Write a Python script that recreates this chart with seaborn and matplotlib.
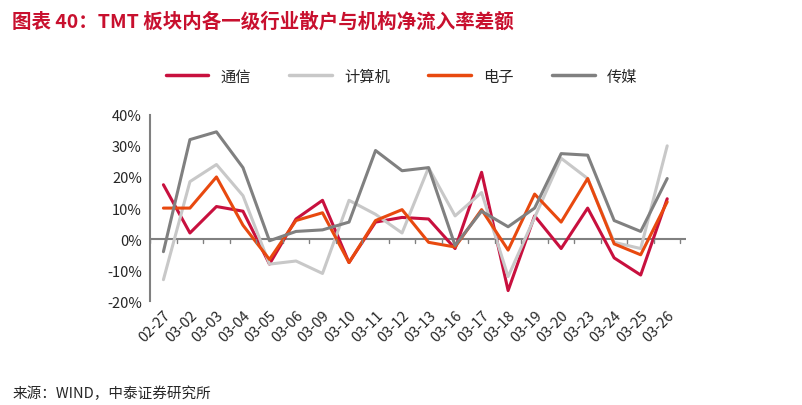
import matplotlib
matplotlib.use("Agg")
import matplotlib.pyplot as plt
import seaborn as sns
import pandas as pd

dates = ["02-27", "03-02", "03-03", "03-04", "03-05", "03-06", "03-09", "03-10", "03-11", "03-12",
         "03-13", "03-16", "03-17", "03-18", "03-19", "03-20", "03-23", "03-24", "03-25", "03-26"]
tongxin = [17.5, 2, 10.5, 9, -8, 6.5, 12.5, -7.5, 5.5, 7, 6.5, -3, 21.5, -16.5, 7.5, -3, 10, -6, -11.5, 13]
jisuanji = [-13, 18.5, 24, 14, -8, -7, -11, 12.5, 8, 2, 23, 7.5, 15, -12, 7, 26, 19.5, -1, -3, 30]
dianzi = [10, 10, 20, 4.5, -6.5, 6, 8.5, -7.5, 6, 9.5, -1, -2.5, 9.5, -3.5, 14.5, 5.5, 19.5, -1.5, -5, 12]
chuanmei = [-4, 32, 34.5, 23, -0.5, 2.5, 3, 5.5, 28.5, 22, 23, -2, 9, 4, 10, 27.5, 27, 6, 2.5, 19.5]

series = {"通信": tongxin, "计算机": jisuanji, "电子": dianzi, "传媒": chuanmei}
colors = {"通信": "#c8103e", "计算机": "#c8c8c8", "电子": "#e8490f", "传媒": "#808080"}

rows = []
for name, vals in series.items():
    for i, v in enumerate(vals):
        rows.append({"x": i, "v": v, "s": name})
df = pd.DataFrame(rows)

sns.set_style("white")
plt.rcParams["font.family"] = ["Noto Sans CJK SC", "DejaVu Sans"]

fig = plt.figure(figsize=(8.03, 4.06), dpi=100)
ax = fig.add_axes([0.187, 0.255, 0.667, 0.46])
sns.lineplot(data=df, x="x", y="v", hue="s", palette=colors, linewidth=2.2, ax=ax, legend=False)

ax.set_ylim(-20, 40)
ax.set_xlim(-0.5, 19.7)
ax.set_yticks(range(-20, 41, 10))
ax.set_yticklabels([f"{t}%" for t in range(-20, 41, 10)], fontsize=10.5, family="Arial" if False else None)
ax.set_xticks([])
for sp in ["top", "right", "bottom"]:
    ax.spines[sp].set_visible(False)
ax.spines["left"].set_color("#808080")
ax.spines["left"].set_linewidth(1.5)
ax.tick_params(axis="y", length=4, color="#808080", width=1.2, pad=2)
ax.axhline(0, color="#808080", lw=1.5, zorder=0)
for i in range(len(dates) + 1):
    ax.plot([i - 0.5, i - 0.5], [0, -1.3], color="#808080", lw=1)
for i, d in enumerate(dates):
    ax.text(i, -22, d, rotation=45, ha="right", va="top", fontsize=10.5, rotation_mode="anchor")
ax.set_xlabel("")
ax.set_ylabel("")

handles = [plt.Line2D([], [], color=colors[n], lw=2.5) for n in series]
fig.legend(handles, list(series), loc="center", bbox_to_anchor=(0.5, 0.81), ncol=4, frameon=False,
           fontsize=11, handlelength=2.8, columnspacing=2.5)

fig.text(0.015, 0.945, "图表 40：TMT 板块内各一级行业散户与机构净流入率差额", color="#c8102e",
         fontsize=14, fontweight="bold", style="italic", va="center")
fig.text(0.015, 0.03, "来源：WIND，中泰证券研究所", fontsize=10.5, va="center")

fig.savefig("out.png", dpi=100)
